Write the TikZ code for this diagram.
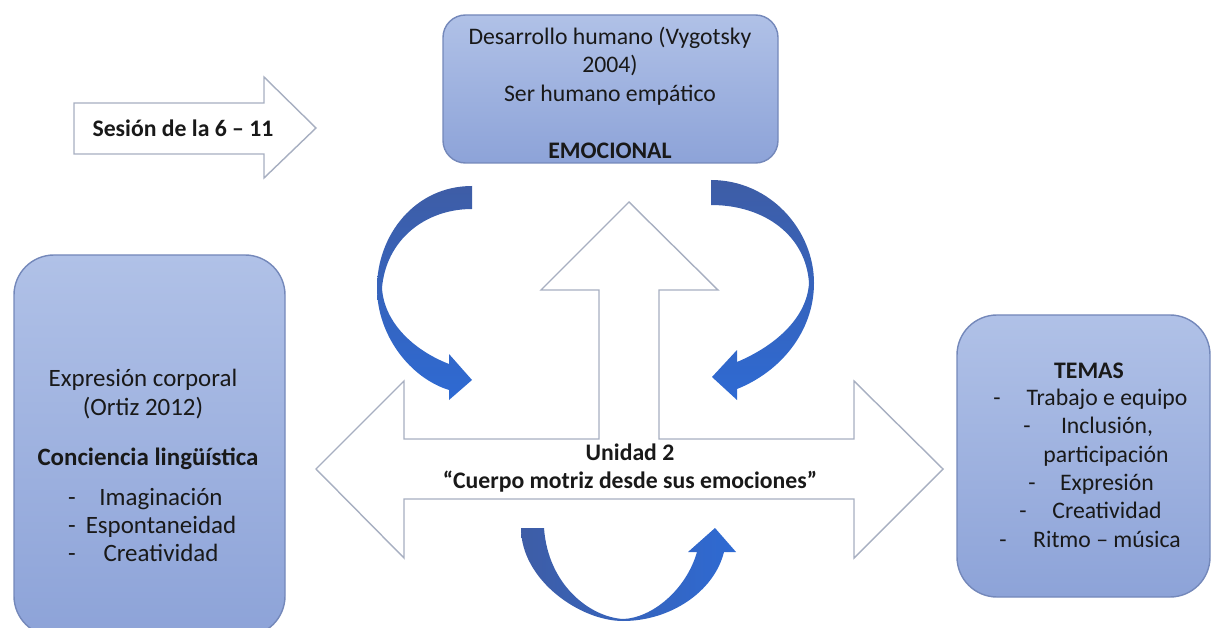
\documentclass[tikz,border=0pt]{standalone}
\usepackage{fontspec}
\setmainfont{Carlito}
\usepackage{xcolor}
\usetikzlibrary{positioning, calc}

\definecolor{boxtop}{HTML}{B0C1E7}
\definecolor{boxbot}{HTML}{8DA3D8}
\definecolor{boxline}{HTML}{7488BA}
\definecolor{arrline}{HTML}{A7AFC1}
\definecolor{curvedark}{HTML}{3E5DA6}
\definecolor{curvelight}{HTML}{2E6AD3}

\begin{document}
\begin{tikzpicture}[x=0.02cm, y=-0.02cm,
  txt/.style      = {font=\fontsize{13.5}{16.3}\selectfont, text=black!90, inner sep=0pt},
  bold/.style     = {txt, font=\fontsize{13.5}{16.3}\selectfont\bfseries},
  big/.style      = {font=\fontsize{14.2}{16.4}\selectfont},
  item/.style     = {txt, text height=9.5pt, text depth=3pt},
  panel/.style    = {draw=boxline, line width=0.8pt, top color=boxtop, bottom color=boxbot},
  hollow/.style   = {draw=arrline, line width=0.8pt, fill=white},
  curvevert/.style= {top color=curvedark, bottom color=curvelight, draw=none},
  curvehor/.style = {left color=curvedark, right color=curvelight, draw=none}
]
\useasboundingbox (0,0) rectangle (1214,628);

% panels
\path[panel, rounded corners=0.45cm] (443,15) rectangle (778,163);
\path[panel, rounded corners=0.8cm] (14,255) rectangle (285,636);
\path[panel, rounded corners=0.8cm] (957,315) rectangle (1210,597);

% hollow arrows
\path[hollow] (74,103) -- (264,103) -- (264,77) -- (316,128) -- (264,178)
  -- (264,154) -- (74,154) -- cycle;
\path[hollow] (316,469) -- (404,381) -- (404,439) -- (599,439) -- (599,290)
  -- (541,290) -- (629,202) -- (718,290) -- (659,290) -- (659,439)
  -- (854,439) -- (854,381) -- (943,469) -- (854,558) -- (854,499)
  -- (404,499) -- (404,558) -- cycle;

% curved arrows
\path[curvevert] (472,186) .. controls (415,186) and (377,235) .. (377,288)
  .. controls (377,335) and (410,378) .. (449,390) -- (449,400) -- (472,380)
  -- (449,354) -- (449,364) .. controls (413,350) and (384,322) .. (382,288)
  .. controls (386,240) and (425,209) .. (472,209) -- cycle;
\path[curvevert] (711,180) .. controls (770,180) and (814,230) .. (814,283)
  .. controls (814,332) and (780,372) .. (737,389) -- (737,400) -- (712,377)
  -- (737,350) -- (737,362) .. controls (775,346) and (807,318) .. (809,283)
  .. controls (806,236) and (765,205) .. (711,205) -- cycle;
\path[curvehor] (521,528) .. controls (521,580) and (580,621) .. (623,621)
  .. controls (670,621) and (714,592) .. (724,552) -- (736,552) -- (715,528)
  -- (688,552) -- (697,552) .. controls (686,590) and (652,618) .. (623,619)
  .. controls (590,617) and (548,585) .. (544,528) -- cycle;

% texts
\node[bold] (sesion) at (183,128) {Sesión de la 6 – 11};
\node[txt, align=center] (desarrollo) at (610,93)
  {Desarrollo humano (Vygotsky\\2004)\\Ser humano empático\\[16.3pt]\textbf{EMOCIONAL}};
\node[bold, align=center] (unidad) at (630,468)
  {Unidad 2\\“Cuerpo motriz desde sus emociones”};

\node[txt, big, align=center] (expresion) at (143,394) {Expresión corporal\\(Ortiz 2012)};
\node[bold, big] (conciencia) at (148,459) {\bfseries Conciencia lingüística};
\foreach \y/\t [count=\i] in {500/Imaginación, 528/Espontaneidad, 556/Creatividad}{
  \node[item, big] (litem\i) at (161,\y) {\t};
  \node[item, big] (ldash\i) at (72,\y) {-};
}

\node[bold] (temas) at (1089,371) {TEMAS};
\foreach \y/\t/\d [count=\i] in {400/Trabajo e equipo/997, 428/{Inclusión,}/1027,
    485/Expresión/1032, 513/Creatividad/1023, 542/Ritmo – música/1003}{
  \node[item] (ritem\i) at (1107,\y) {\t};
  \node[item] (rdash\i) at (\d,\y) {-};
}
\node[item] (particip) at (1106,457) {participación};
\end{tikzpicture}
\end{document}
